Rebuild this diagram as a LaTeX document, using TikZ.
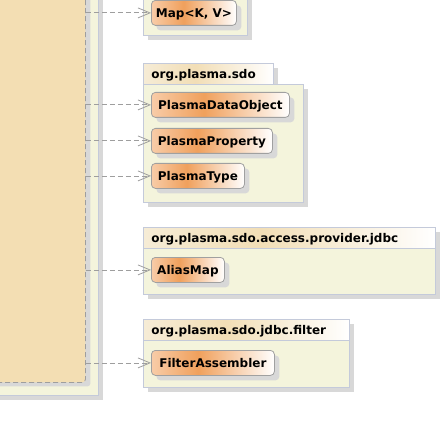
\documentclass[tikz,border=0pt]{standalone}
\usepackage{fontspec}
\setmainfont{DejaVu Sans}
\usetikzlibrary{arrows.meta,shadows}
\definecolor{wheatbg}{RGB}{243,222,179}
\definecolor{pkgfill}{RGB}{244,244,220}
\definecolor{pkgline}{RGB}{196,202,218}
\definecolor{shadowc}{RGB}{216,216,216}
\definecolor{clsA}{RGB}{248,204,168}
\definecolor{clsB}{RGB}{240,160,92}
\definecolor{clsline}{RGB}{160,160,160}
\definecolor{tabA}{RGB}{246,236,214}
\definecolor{tabB}{RGB}{242,222,182}
\definecolor{conn}{RGB}{158,158,158}
\pgfdeclarehorizontalshading{clsshade}{100bp}{color(0bp)=(clsA); color(25bp)=(clsA); color(44bp)=(clsB); color(75bp)=(white); color(100bp)=(white)}
\pgfdeclarehorizontalshading{tabshade}{100bp}{color(0bp)=(tabA); color(25bp)=(tabA); color(45bp)=(tabB); color(75bp)=(white); color(100bp)=(white)}
\tikzset{
  lbl/.style={font=\bfseries\fontsize{12}{14}\selectfont},
  cls/.style={lbl, draw=clsline, line width=0.8pt, rounded corners=4pt, shading=clsshade,
    minimum height=25pt, inner xsep=0pt, anchor=north west, text height=11pt, text depth=1pt,
    drop shadow={shadow xshift=5pt, shadow yshift=-5pt, fill=shadowc, opacity=1}},
  pkgbody/.style={draw=pkgline, fill=pkgfill, line width=0.8pt},
  pkgshadow/.style={fill=shadowc},
  tab/.style={lbl, draw=pkgline, line width=0.8pt, shading=tabshade, anchor=north west,
    minimum height=21pt, inner xsep=8pt, align=left, text height=10pt, text depth=1pt},
  conn/.style={draw=conn, line width=0.8pt, dash pattern=on 5pt off 3pt,
    -{Straight Barb[length=12pt,width=10pt]}},
}
\begin{document}
\begin{tikzpicture}[x=1pt,y=-1pt]
\useasboundingbox (0,0) rectangle (443,438);
\clip (0,0) rectangle (443,438);
\fill[white] (0,0) rectangle (443,438);
% outer package frame on the left
\fill[pkgshadow] (-5,-5) rectangle (103,400);
\draw[pkgbody] (-10,-10) rectangle (98,395);
% class box on the left
\node[draw=conn, line width=0.8pt, dash pattern=on 5pt off 3pt, fill=wheatbg, rounded corners=3pt,
  anchor=north west, minimum width=95pt, minimum height=392pt, inner sep=0pt,
  drop shadow={shadow xshift=5pt, shadow yshift=-4pt, fill=shadowc, opacity=1}] (src) at (-10,-10) {};
% package 1 (tab off-picture)
\fill[pkgshadow] (148,-5) rectangle (252,40);
\draw[pkgbody] (143,-10) rectangle (247,35);
% package 2: org.plasma.sdo
\fill[pkgshadow] (148,68) rectangle (278,89);
\fill[pkgshadow] (148,89) rectangle (308,207);
\draw[pkgbody] (143,84) rectangle (303,202);
\node[tab, text width=114pt] (tab2) at (143,63) {org.plasma.sdo};
% package 3: org.plasma.sdo.access.provider.jdbc
\fill[pkgshadow] (148,232) rectangle (440,299);
\draw[pkgbody] (143,247) rectangle (435,294);
\node[tab, text width=276pt] (tab3) at (143,227) {org.plasma.sdo.access.provider.jdbc};
% package 4: org.plasma.sdo.jdbc.filter
\fill[pkgshadow] (148,324) rectangle (354,392);
\draw[pkgbody] (143,340) rectangle (349,387);
\node[tab, text width=190pt] (tab4) at (143,319) {org.plasma.sdo.jdbc.filter};
% classes
\node[cls, minimum width=85pt] (map) at (151,0) {Map<K, V>};
\node[cls, minimum width=138pt] (pdo) at (151,92) {PlasmaDataObject};
\node[cls, minimum width=121pt] (pp) at (151,128) {PlasmaProperty};
\node[cls, minimum width=93pt] (pt) at (151,163) {PlasmaType};
\node[cls, minimum width=73pt] (am) at (151,257) {AliasMap};
\node[cls, minimum width=123pt] (fa) at (151,350) {FilterAssembler};
% dependencies
\foreach \t in {map,pdo,pp,pt,am,fa}
  \draw[conn] (src.east |- \t.west) -- (\t.west);
\end{tikzpicture}
\end{document}
